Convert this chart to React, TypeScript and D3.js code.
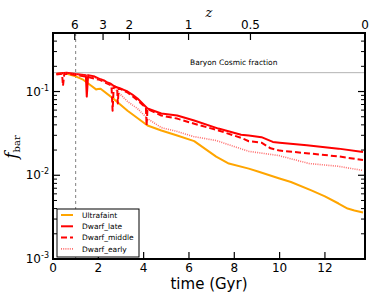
import * as d3 from 'd3';

// [time (Gyr), f_bar]
const ultrafaint: [number, number][] = [
  [0.15, 0.162], [0.5, 0.166], [1.0, 0.152], [1.3, 0.14], [1.6, 0.122], [1.9, 0.106],
  [1.98, 0.107], [2.1, 0.108], [2.72, 0.08], [3.29, 0.059], [4.17, 0.0393], [4.78, 0.0343],
  [5.48, 0.0298], [6.23, 0.0256], [7.2, 0.0167], [7.76, 0.0138], [8.64, 0.012], [9.08, 0.011],
  [9.96, 0.0092], [10.5, 0.0083], [11.4, 0.0066], [12.0, 0.0056], [12.6, 0.0046],
  [13.0, 0.004], [13.3, 0.0038], [13.68, 0.0036],
];

const dwarfLate: [number, number][] = [
  [0.15, 0.163], [0.6, 0.168], [1.0, 0.162], [1.45, 0.157], [1.49, 0.087], [1.55, 0.157],
  [1.84, 0.151], [2.1, 0.14], [2.25, 0.136], [2.4, 0.128], [2.55, 0.124], [2.72, 0.115],
  [3.0, 0.108], [3.15, 0.104], [3.29, 0.1], [3.5, 0.092], [3.73, 0.0825], [4.17, 0.0626],
  [4.78, 0.0546], [5.48, 0.0517], [6.23, 0.045], [7.3, 0.0361], [8.3, 0.0305], [8.64, 0.0298],
  [9.2, 0.0285], [9.7, 0.025], [10.0, 0.0245], [11.2, 0.0228], [12.6, 0.0208], [13.68, 0.019],
];

const dwarfMiddle: [number, number][] = [
  [0.15, 0.16], [0.4, 0.163], [0.44, 0.117], [0.5, 0.163], [1.0, 0.158], [1.5, 0.15],
  [2.06, 0.138], [2.58, 0.118], [2.63, 0.059], [2.68, 0.116], [2.83, 0.112], [2.86, 0.072],
  [2.9, 0.11], [3.3, 0.097], [3.7, 0.08], [4.1, 0.064], [4.13, 0.0393], [4.17, 0.062],
  [4.78, 0.0516], [5.48, 0.0475], [6.2, 0.0415], [7.3, 0.0343], [8.3, 0.028], [8.64, 0.0255],
  [9.2, 0.0245], [9.6, 0.021], [10.0, 0.0197], [11.3, 0.0182], [12.6, 0.0168], [13.68, 0.0152],
];

const dwarfEarly: [number, number][] = [
  [0.15, 0.163], [0.6, 0.167], [1.0, 0.161], [1.5, 0.155], [2.06, 0.14], [2.6, 0.118],
  [2.85, 0.1], [3.29, 0.076], [3.73, 0.0626], [4.17, 0.0475], [4.78, 0.0371], [5.48, 0.0333],
  [6.2, 0.029], [7.2, 0.026], [8.0, 0.022], [8.64, 0.0193], [9.96, 0.0172], [11.3, 0.0138],
  [12.6, 0.0128], [13.68, 0.0114],
];

const timeTicks = [0, 2, 4, 6, 8, 10, 12];
const redshiftTicks = [6, 3, 2, 1, 0.5, 0];
const yTickPowers = [-3, -2, -1];
const cosmicFraction = 0.168;
const markerTime = 1.0;

// flat LCDM age of the universe at redshift z, Gyr
const H0 = 70.5;
const omegaM = 0.27;
function ageAt(z: number) {
  const omegaL = 1 - omegaM;
  const hubbleTime = 977.8 / H0;
  return (2 / (3 * Math.sqrt(omegaL))) * hubbleTime *
    Math.asinh(Math.sqrt(omegaL / omegaM) * Math.pow(1 + z, -1.5));
}

const W = 374;
const H = 298;
const m = { left: 53, right: 9, top: 33, bottom: 39 };
const sans = 'DejaVu Sans, sans-serif';
const serif = 'DejaVu Serif, serif';

export default function App() {
  const x = d3.scaleLinear().domain([0, ageAt(0)]).range([m.left, W - m.right]);
  const y = d3.scaleLog().domain([1e-3, 0.5]).range([H - m.bottom, m.top]);
  const line = d3.line<[number, number]>().x((d) => x(d[0])).y((d) => y(d[1]));

  const x0 = m.left, x1 = W - m.right, y0 = m.top, y1 = H - m.bottom;

  const minorY: number[] = [];
  for (let p = -3; p <= -1; p++) {
    for (let k = 2; k <= 9; k++) {
      const v = k * Math.pow(10, p);
      if (v <= 0.5) minorY.push(v);
    }
  }

  const series = [
    { name: 'Ultrafaint', data: ultrafaint, color: '#ffa500', width: 2, dash: undefined as string | undefined, opacity: 1 },
    { name: 'Dwarf_late', data: dwarfLate, color: '#ff0000', width: 2, dash: undefined, opacity: 1 },
    { name: 'Dwarf_middle', data: dwarfMiddle, color: '#ff0000', width: 2, dash: '6 3', opacity: 1 },
    { name: 'Dwarf_early', data: dwarfEarly, color: '#ff3030', width: 1.6, dash: '1 1.2', opacity: 0.7 },
  ];

  return (
    <svg width={W} height={H} style={{ position: 'absolute', left: 0, top: 0, background: '#fff' }}>
      <defs>
        <clipPath id='plot'>
          <rect x={x0} y={y0} width={x1 - x0} height={y1 - y0} />
        </clipPath>
      </defs>

      {/* cosmic baryon fraction + reionisation marker */}
      <line x1={x0} x2={x1} y1={y(cosmicFraction)} y2={y(cosmicFraction)} stroke='#b4b4b4' strokeWidth={1} />
      <text x={190} y={y(cosmicFraction) - 8} fontFamily={sans} fontSize={7.5}>Baryon Cosmic fraction</text>
      <line x1={x(markerTime)} x2={x(markerTime)} y1={y0} y2={y1} stroke='#808080' strokeWidth={1} strokeDasharray='3 3' />

      <g clipPath='url(#plot)'>
        {series.map((s) => (
          <path key={s.name} d={line(s.data) ?? ''} fill='none' stroke={s.color} strokeWidth={s.width}
            strokeDasharray={s.dash} strokeOpacity={s.opacity} strokeLinejoin='round' />
        ))}
      </g>

      {/* ticks */}
      {timeTicks.map((t) => (
        <g key={'t' + t}>
          <line x1={x(t)} x2={x(t)} y1={y1} y2={y1 - 7} stroke='#000' strokeWidth={1.2} />
          <text x={x(t)} y={y1 + 13} textAnchor='middle' fontFamily={sans} fontSize={12}>{t}</text>
        </g>
      ))}
      {redshiftTicks.map((z) => (
        <g key={'z' + z}>
          <line x1={x(ageAt(z))} x2={x(ageAt(z))} y1={y0} y2={y0 + 7} stroke='#000' strokeWidth={1.2} />
          <text x={x(ageAt(z))} y={y0 - 4} textAnchor='middle' fontFamily={sans} fontSize={12}>{z}</text>
        </g>
      ))}
      {yTickPowers.map((p) => (
        <g key={'y' + p}>
          <line x1={x0} x2={x0 + 7} y1={y(Math.pow(10, p))} y2={y(Math.pow(10, p))} stroke='#000' strokeWidth={1.2} />
          <line x1={x1} x2={x1 - 7} y1={y(Math.pow(10, p))} y2={y(Math.pow(10, p))} stroke='#000' strokeWidth={1.2} />
          <text x={x0 - 4} y={y(Math.pow(10, p)) + 4} textAnchor='end' fontFamily={sans} fontSize={12}>
            10<tspan fontSize={8} dy={-5}>{p}</tspan>
          </text>
        </g>
      ))}
      {minorY.map((v) => (
        <g key={'m' + v}>
          <line x1={x0} x2={x0 + 4} y1={y(v)} y2={y(v)} stroke='#000' strokeWidth={1} />
          <line x1={x1} x2={x1 - 4} y1={y(v)} y2={y(v)} stroke='#000' strokeWidth={1} />
        </g>
      ))}

      <rect x={x0} y={y0} width={x1 - x0} height={y1 - y0} fill='none' stroke='#000' strokeWidth={2} />

      {/* axis titles */}
      <text x={(x0 + x1) / 2} y={289} textAnchor='middle' fontFamily={sans} fontSize={15}>time (Gyr)</text>
      <text x={(x0 + x1) / 2} y={17} textAnchor='middle' fontFamily={serif} fontStyle='italic' fontSize={13}>z</text>
      <text transform='translate(17,147) rotate(-90)' textAnchor='middle' fontFamily={serif}>
        <tspan fontStyle='italic' fontSize={17}>f</tspan>
        <tspan fontSize={10} dy={3}>bar</tspan>
      </text>

      {/* legend */}
      <g transform='translate(57,209)'>
        <rect width={82} height={48} fill='#fff' stroke='#000' strokeWidth={1} />
        {series.map((s, i) => (
          <g key={s.name} transform={`translate(0,${6 + i * 11.3})`}>
            <line x1={4} x2={16} stroke={s.color} strokeWidth={s.width} strokeDasharray={s.dash} strokeOpacity={s.opacity} />
            <text x={25} y={2.7} fontFamily={sans} fontSize={7.5}>{s.name}</text>
          </g>
        ))}
      </g>
    </svg>
  );
}
